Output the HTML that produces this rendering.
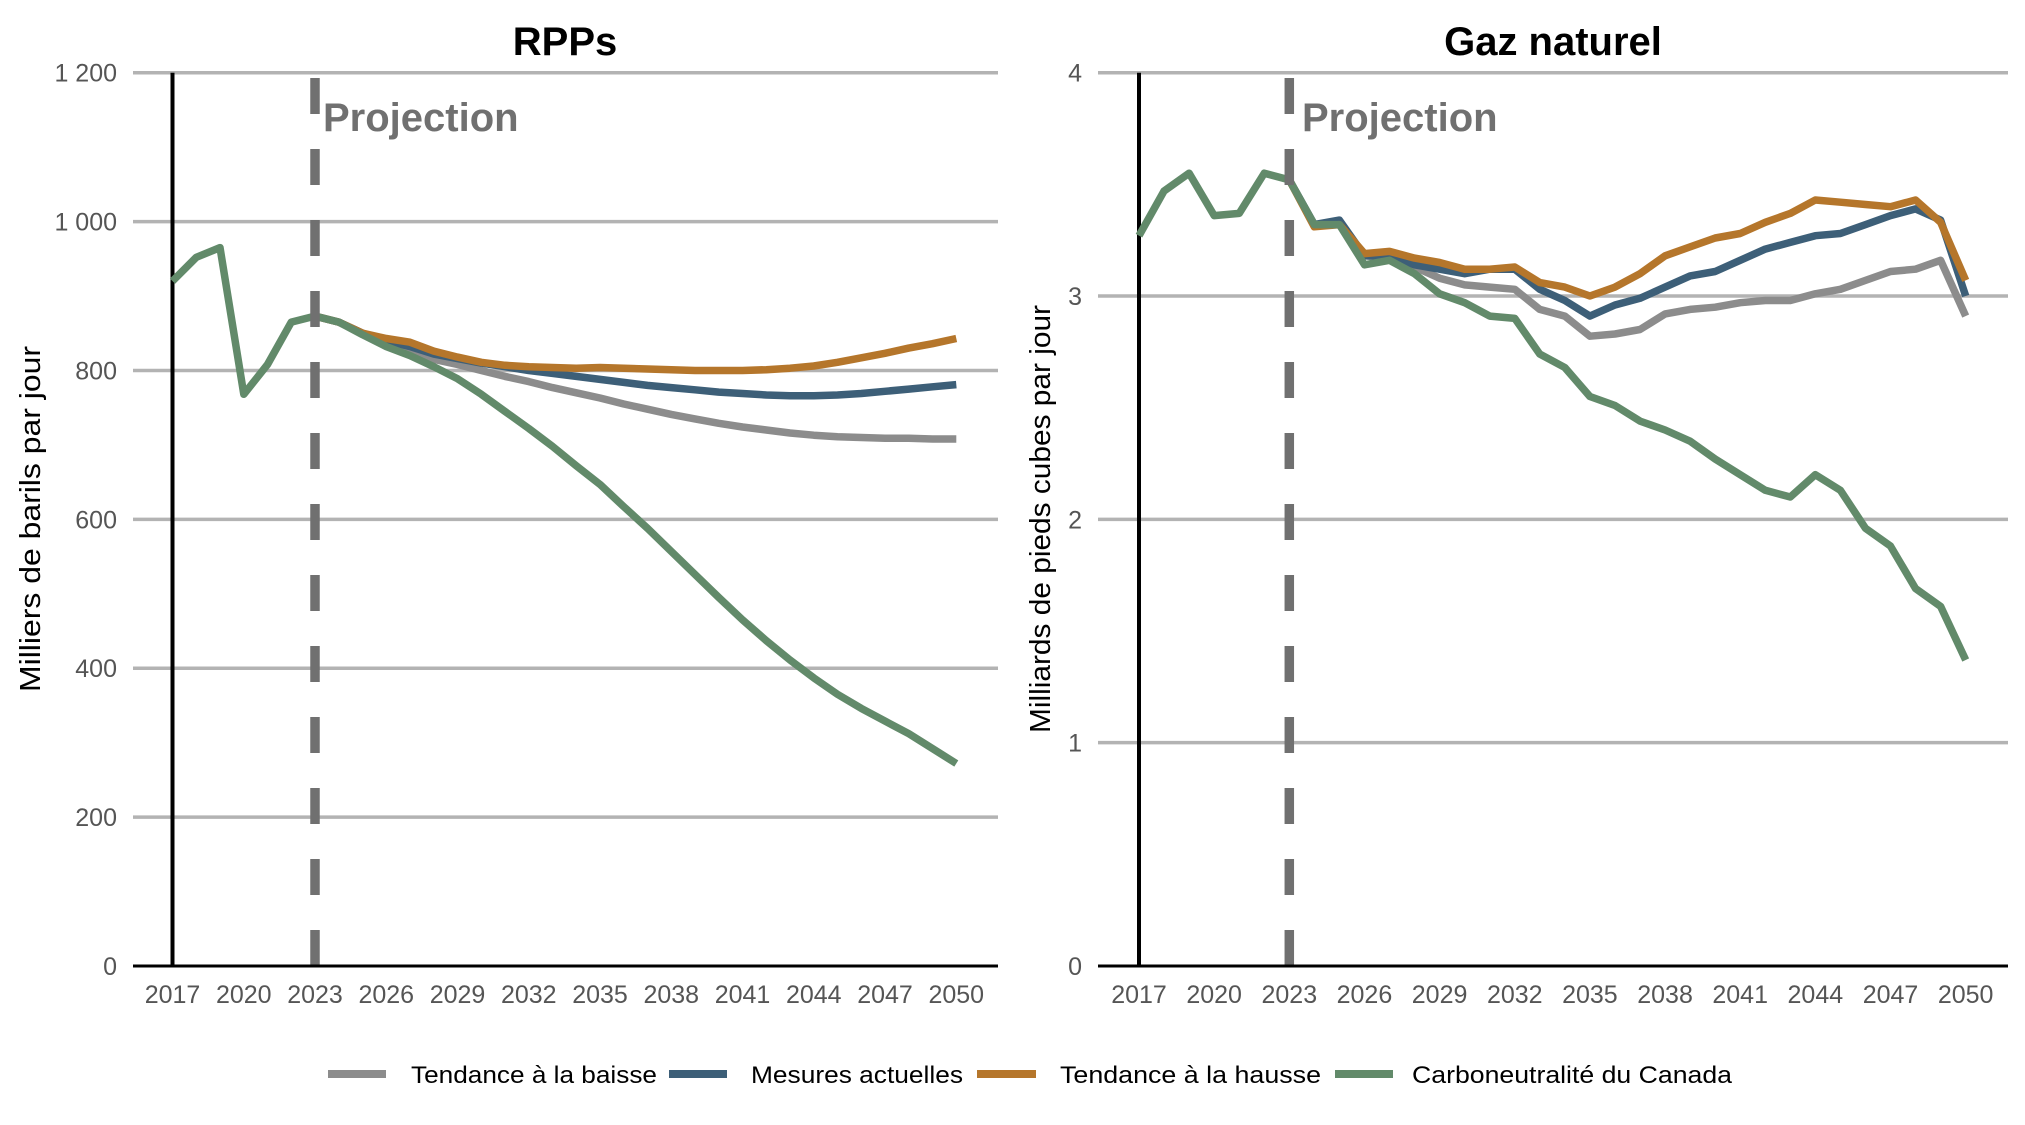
<!DOCTYPE html>
<html><head><meta charset="utf-8"><style>
html,body{margin:0;padding:0;background:#fff;}
svg{display:block;}
text{font-family:"Liberation Sans",Arial,sans-serif;}
</style></head><body>
<svg id="c" width="2025" height="1125" viewBox="0 0 2025 1125" xmlns="http://www.w3.org/2000/svg">
<rect width="2025" height="1125" fill="#fff"/>
<g id="L"></g>
<g id="R"></g>
<text x="565" y="55" font-size="40" font-weight="bold" text-anchor="middle" fill="#000">RPPs</text>
<text x="1553" y="55" font-size="40" font-weight="bold" text-anchor="middle" fill="#000">Gaz naturel</text>
<text transform="translate(40,519) rotate(-90)" font-size="29" text-anchor="middle" fill="#000" textLength="346" lengthAdjust="spacingAndGlyphs">Milliers de barils par jour</text>
<text transform="translate(1050,519) rotate(-90)" font-size="29" text-anchor="middle" fill="#000" textLength="428" lengthAdjust="spacingAndGlyphs">Milliards de pieds cubes par jour</text>
<text x="323" y="131" font-size="40" font-weight="bold" fill="#707070">Projection</text>
<text x="1302" y="131" font-size="40" font-weight="bold" fill="#707070">Projection</text>
<g font-size="24" fill="#000">
<line x1="328" y1="1074" x2="386" y2="1074" stroke="#8c8c8c" stroke-width="8"/>
<text x="411" y="1083" textLength="246" lengthAdjust="spacingAndGlyphs">Tendance à la baisse</text>
<line x1="669" y1="1074" x2="727" y2="1074" stroke="#3d5f78" stroke-width="8"/>
<text x="751" y="1083" textLength="212" lengthAdjust="spacingAndGlyphs">Mesures actuelles</text>
<line x1="977" y1="1074" x2="1036" y2="1074" stroke="#b5762b" stroke-width="8"/>
<text x="1060" y="1083" textLength="261" lengthAdjust="spacingAndGlyphs">Tendance à la hausse</text>
<line x1="1335" y1="1074" x2="1393" y2="1074" stroke="#628a6a" stroke-width="8"/>
<text x="1412" y="1083" textLength="320" lengthAdjust="spacingAndGlyphs">Carboneutralité du Canada</text>
</g>
</svg>
<script>
var NS="http://www.w3.org/2000/svg";
function el(p,t,a,txt){var e=document.createElementNS(NS,t);for(var k in a)e.setAttribute(k,a[k]);if(txt!==undefined)e.textContent=txt;p.appendChild(e);return e;}
function panel(g,o){
  var x0=o.axL,x1=o.axR,yT=72.7,yB=966;
  function X(yr){return o.x17+(yr-2017)*o.dx;}
  function Y(v){return yB-(v/o.max)*(yB-yT);}
  o.ticks.forEach(function(t){
    if(t[0]>0) el(g,'line',{x1:x0,x2:x1,y1:Y(t[0]),y2:Y(t[0]),stroke:'#b3b3b3','stroke-width':3.5});
    el(g,'text',{x:o.lblX,y:Y(t[0])+9,'font-size':25,'text-anchor':'end',fill:'#555'},t[1]);
  });
  for(var yr=2017;yr<=2050;yr+=3) el(g,'text',{x:X(yr),y:1003,'font-size':25,'text-anchor':'middle',fill:'#555'},String(yr));
  el(g,'line',{x1:X(2017),x2:X(2017),y1:yT,y2:yB,stroke:'#000','stroke-width':4});
  var cols=['#8c8c8c','#3d5f78','#b5762b','#628a6a'];
  o.series.forEach(function(s,i){
    var d='';
    s.forEach(function(v,j){var yr=o.start[i]+j;d+=(j?'L':'M')+X(yr).toFixed(1)+','+Y(v).toFixed(1);});
    el(g,'path',{d:d,fill:'none',stroke:cols[i],'stroke-width':7.5,'stroke-linejoin':'round'});
  });
  el(g,'line',{x1:X(2023),x2:X(2023),y1:78,y2:yB,stroke:'#707070','stroke-width':9.5,'stroke-dasharray':'36 35'});
  el(g,'line',{x1:x0,x2:x1,y1:yB,y2:yB,stroke:'#000','stroke-width':3});
}
var gL=[873,865,850,838,828,815,808,800,792,785,777,770,763,755,748,741,735,729,724,720,716,713,711,710,709,709,708,708];
var bL=[873,865,850,840,832,822,816,810,805,800,796,792,788,784,780,777,774,771,769,767,766,766,767,769,772,775,778,781];
var oL=[873,865,850,843,838,826,818,811,807,805,804,803,804,803,802,801,800,800,800,801,803,806,811,817,823,830,836,843];
var nL=[920,952,965,768,808,865,873,865,848,832,820,805,789,768,745,722,698,672,647,617,588,557,526,495,465,437,411,387,365,346,329,312,292,272];
panel(document.getElementById('L'),{axL:133,axR:998,x17:172.5,dx:23.75,max:1200,lblX:117,
 ticks:[[0,'0'],[200,'200'],[400,'400'],[600,'600'],[800,'800'],[1000,'1 000'],[1200,'1 200']],
 start:[2023,2023,2023,2017],series:[gL,bL,oL,nL]});
var gR=[3.52,3.32,3.33,3.18,3.17,3.13,3.08,3.05,3.04,3.03,2.94,2.91,2.82,2.83,2.85,2.92,2.94,2.95,2.97,2.98,2.98,3.01,3.03,3.07,3.11,3.12,3.16,2.91];
var bR=[3.52,3.32,3.34,3.18,3.18,3.14,3.12,3.10,3.12,3.12,3.03,2.98,2.91,2.96,2.99,3.04,3.09,3.11,3.16,3.21,3.24,3.27,3.28,3.32,3.36,3.39,3.34,3.00];
var oR=[3.52,3.31,3.32,3.19,3.20,3.17,3.15,3.12,3.12,3.13,3.06,3.04,3.00,3.04,3.10,3.18,3.22,3.26,3.28,3.33,3.37,3.43,3.42,3.41,3.40,3.43,3.33,3.07];
var nR=[3.27,3.47,3.55,3.36,3.37,3.55,3.52,3.32,3.32,3.14,3.16,3.10,3.01,2.97,2.91,2.90,2.74,2.68,2.55,2.51,2.44,2.40,2.35,2.27,2.20,2.13,2.10,2.20,2.13,1.96,1.88,1.69,1.61,1.37];
panel(document.getElementById('R'),{axL:1098,axR:2008,x17:1139,dx:25.05,max:4,lblX:1082,
 ticks:[[0,'0'],[1,'1'],[2,'2'],[3,'3'],[4,'4']],
 start:[2023,2023,2023,2017],series:[gR,bR,oR,nR]});
</script>
</body></html>
